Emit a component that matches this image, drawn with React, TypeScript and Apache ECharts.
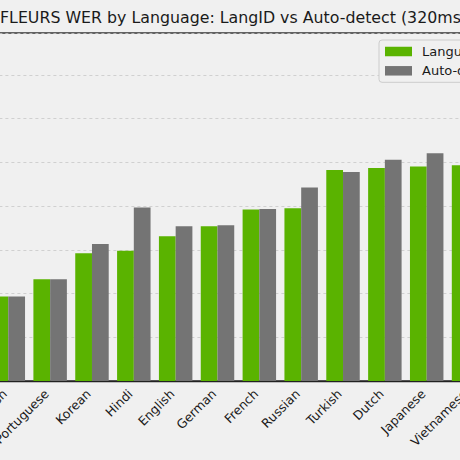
import React, { useEffect, useRef } from "react";
import * as echarts from "echarts";

const categories = [
  "Spanish", "Portuguese", "Korean", "Hindi", "English", "German",
  "French", "Russian", "Turkish", "Dutch", "Japanese", "Vietnamese",
];
const langIdWer = [9.65, 11.64, 14.61, 14.91, 16.56, 17.7, 19.6, 19.76, 24.14, 24.37, 24.52, 24.68];
const autoDetectWer = [9.65, 11.64, 15.68, 19.83, 17.7, 17.81, 19.68, 22.12, 23.91, 25.29, 26.05, 26.6];
const seriesNames = ["Language ID", "Auto-detect"];
const titleText = "FLEURS WER by Language: LangID vs Auto-detect (320ms chunks)";

const OX = 100;
const CHART_W = 680;
const BAND = 41.84;

export default function App() {
  const ref = useRef<HTMLDivElement>(null);
  useEffect(() => {
    document.body.style.margin = "0";
    const chart = echarts.init(ref.current!, null, { renderer: "svg" });
    const font = "DejaVu Sans";
    chart.setOption({
      animation: false,
      backgroundColor: "#f0f0f0",
      textStyle: { fontFamily: font },
      title: {
        text: titleText,
        left: OX,
        top: 9,
        padding: 0,
        textStyle: { fontFamily: font, fontSize: 15.8, fontWeight: "normal", color: "#1a1a1a" },
      },
      legend: {
        orient: "vertical",
        left: OX + 379,
        top: 40,
        padding: [5, 8, 5, 6],
        itemGap: 6.3,
        itemWidth: 27,
        itemHeight: 9.5,
        borderColor: "#cccccc",
        borderWidth: 1,
        borderRadius: 3,
        backgroundColor: "#f0f0f0",
        icon: "rect",
        textStyle: { fontFamily: font, fontSize: 13, color: "#1a1a1a", lineHeight: 13, padding: [0, 0, 0, 5] },
        data: seriesNames,
      },
      grid: {
        left: OX + 8.3 - BAND / 2,
        width: BAND * categories.length,
        top: 33,
        height: 348,
        show: true,
        borderColor: "#333333",
        borderWidth: 1.3,
        backgroundColor: "transparent",
        containLabel: false,
      },
      xAxis: {
        type: "category",
        data: categories,
        axisLine: { lineStyle: { color: "#222222", width: 1.3 } },
        axisTick: { alignWithLabel: true, length: 4, lineStyle: { color: "#222222", width: 1 } },
        axisLabel: {
          rotate: 45,
          interval: 0,
          fontSize: 12.5,
          color: "#1a1a1a",
          fontFamily: font,
          margin: 7,
          padding: [0, 5, 0, 0],
        },
      },
      yAxis: {
        type: "value",
        min: 0,
        max: 39.8,
        interval: 5,
        axisLine: { show: false },
        axisTick: { show: false },
        axisLabel: { show: false },
        splitLine: { lineStyle: { color: "#c8c8c8", type: [3, 3], width: 0.8 } },
      },
      series: [
        {
          name: seriesNames[0],
          type: "bar",
          data: langIdWer,
          barWidth: BAND * 0.4,
          barGap: "0%",
          itemStyle: { color: "#5ab300" },
        },
        {
          name: seriesNames[1],
          type: "bar",
          data: autoDetectWer,
          barWidth: BAND * 0.4,
          barGap: "0%",
          itemStyle: { color: "#747474" },
        },
      ],
    });
    return () => chart.dispose();
  }, []);
  return (
    <div style={{ width: 460, height: 460, overflow: "hidden", position: "relative", background: "#f0f0f0" }}>
      <div ref={ref} style={{ position: "absolute", left: -OX, top: 0, width: CHART_W, height: 460 }} />
    </div>
  );
}
